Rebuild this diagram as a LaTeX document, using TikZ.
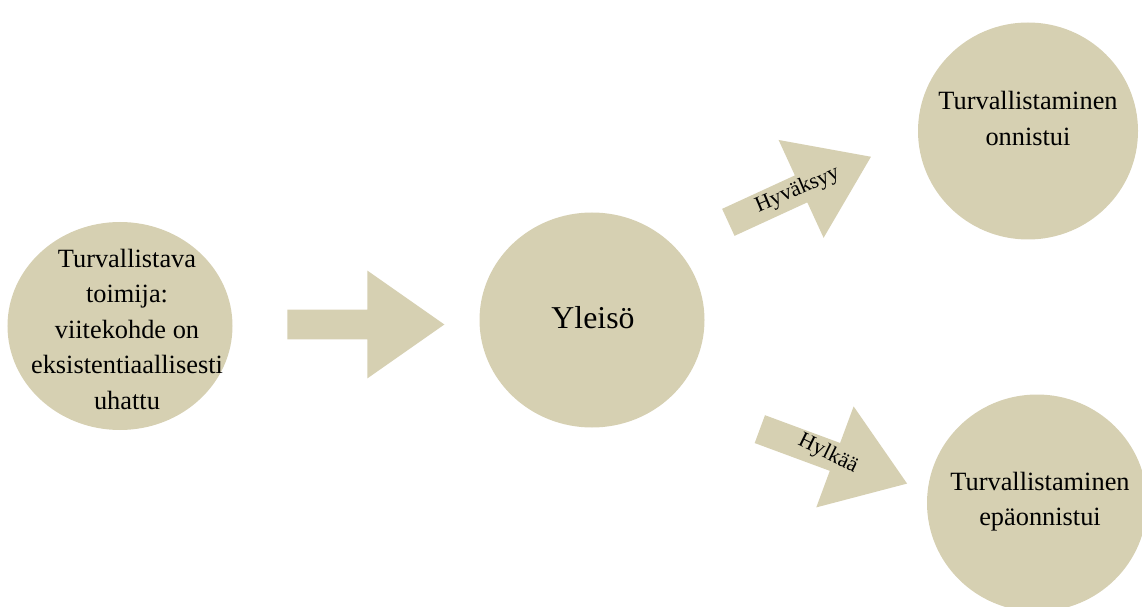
\documentclass[tikz,border=0pt]{standalone}
\usepackage{fontspec}
\setmainfont{Liberation Serif}
\usetikzlibrary{shapes.geometric,shapes.arrows}
\definecolor{tanfill}{RGB}{214,208,178}

\begin{document}
\begin{tikzpicture}[
    bubble/.style={
        ellipse,
        fill=tanfill,
        inner sep=0pt,
        minimum width=#1,
    },
    bubbletext/.style={
        font=\fontsize{15}{20.2}\selectfont,
        align=center,
        inner sep=0pt,
    },
    blockarrow/.style={
        single arrow,
        fill=tanfill,
        minimum height=3.14cm,
        minimum width=2.14cm,
        inner xsep=0pt,
        inner ysep=0.29cm,
        single arrow head extend=0.78cm,
        single arrow tip angle=70,
        anchor=tail,
        rotate=#1,
    },
    arrowlabel/.style={
        font=\fontsize{12.5}{15}\selectfont,
        inner sep=0pt,
        rotate=#1,
    },
]
\useasboundingbox (0,0) rectangle (22.84,12.12);

% === Actor ===
\node[bubble=4.5cm, minimum height=4.16cm] (actor) at (2.40, 5.60) {};
\node[bubbletext] at ([shift={(0.14,-0.06)}]actor.center) {
    Turvallistava\\
    toimija:\\
    viitekohde on\\
    eksistentiaallisesti\\
    uhattu
};

% === Audience ===
\node[bubble=4.5cm, minimum height=4.3cm] (audience) at (11.84, 5.72) {};
\node[bubbletext, font=\fontsize{18.1}{22}\selectfont] at ([shift={(0.02,0.04)}]audience.center) {Yleisö};

% === Outcomes ===
\node[bubble=4.4cm, minimum height=4.34cm] (success) at (20.56, 9.50) {};
\node[bubbletext] at ([shift={(0,0.25)}]success.center) {
    Turvallistaminen\\
    onnistui
};

\node[bubble=4.4cm, minimum height=4.34cm] (failure) at (20.74, 2.06) {};
\node[bubbletext] at ([shift={(0.06,0.03)}]failure.center) {
    Turvallistaminen\\
    epäonnistui
};

% === Arrows ===
\node[blockarrow=0] (claim) at (5.74, 5.63) {};
\node[blockarrow=24.7] (accept) at (14.56, 7.67) {};
\node[blockarrow=-20.3] (reject) at (15.19, 3.54) {};

\node[arrowlabel=23] at (15.95, 8.32) {Hyväksyy};
\node[arrowlabel=-26] at (16.56, 3.04) {Hylkää};

\end{tikzpicture}
\end{document}
